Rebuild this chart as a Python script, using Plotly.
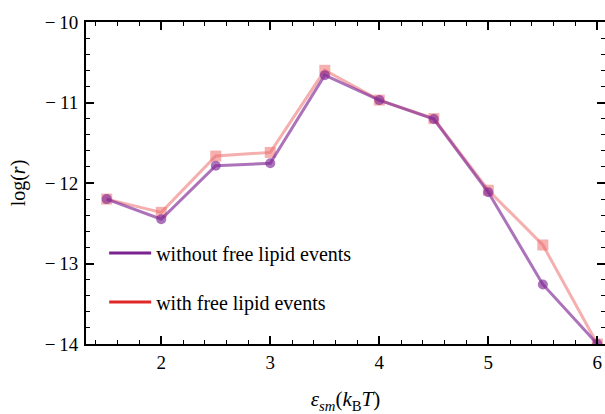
import plotly.graph_objects as go

eps = [1.5, 2.0, 2.5, 3.0, 3.5, 4.0, 4.5, 5.0, 5.5, 6.0]
without_free = [-12.20, -12.45, -11.785, -11.755, -10.66, -10.97, -11.205, -12.115, -13.26, -14.0]
with_free = [-12.20, -12.365, -11.665, -11.62, -10.60, -10.97, -11.20, -12.09, -12.77, -14.0]
legend_names = ["without free lipid events", "with free lipid events"]
x_ticks = [2, 3, 4, 5, 6]
y_ticks = [-10, -11, -12, -13, -14]

FONT = "Liberation Serif"

fig = go.Figure()
fig.add_trace(go.Scatter(
    x=eps, y=with_free, mode="lines+markers", showlegend=False,
    line=dict(color="rgba(236,110,110,0.55)", width=3),
    marker=dict(symbol="square", size=11, color="rgba(236,110,110,0.55)"),
))
fig.add_trace(go.Scatter(
    x=eps, y=without_free, mode="lines+markers", showlegend=False,
    line=dict(color="rgba(128,40,150,0.65)", width=3),
    marker=dict(symbol="circle", size=10, color="rgba(128,40,150,0.65)"),
))
fig.add_trace(go.Scatter(
    x=[None], y=[None], mode="lines", name=legend_names[0], legendgroup="a",
    line=dict(color="#7b2190", width=3),
))
fig.add_trace(go.Scatter(
    x=[None], y=[None], mode="lines", name=legend_names[1], legendgroup="b",
    line=dict(color="#e02828", width=3),
))
# invisible trace to carry the right-hand tick axis
fig.add_trace(go.Scatter(x=[None], y=[None], yaxis="y2", showlegend=False, hoverinfo="skip"))

tick_common = dict(ticks="inside", ticklen=8, tickwidth=1.5, tickcolor="black",
                   showgrid=False, zeroline=False)
minor = dict(dtick=0.2, tick0=0, ticks="inside", ticklen=4, tickwidth=1, tickcolor="black")

fig.update_layout(
    width=605, height=414,
    margin=dict(l=86, r=0, t=22, b=70),
    plot_bgcolor="white", paper_bgcolor="white",
    font=dict(family=FONT, color="black"),
    xaxis=dict(
        range=[1.31, 6.07], tickvals=x_ticks, ticktext=[str(v) for v in x_ticks],
        showline=True, linecolor="black", linewidth=2, mirror="ticks",
        minor=minor,
        tickfont=dict(family=FONT, size=19, color="black"),
        title=dict(text="<i>ε</i><sub><i>sm</i></sub>(<i>k</i><sub>B</sub><i>T</i>)",
                   font=dict(family=FONT, size=21), standoff=20),
        **tick_common,
    ),
    yaxis=dict(
        range=[-14, -10], tickvals=y_ticks,
        ticktext=["\u2212\u2009" + str(-v) for v in y_ticks],
        showline=True, linecolor="black", linewidth=2, mirror=False,
        minor=minor, ticklabelstandoff=2,
        tickfont=dict(family=FONT, size=19, color="black"),
        title=dict(text="log(<i>r</i>)", font=dict(family=FONT, size=20), standoff=14),
        **tick_common,
    ),
    yaxis2=dict(
        range=[-14, -10], tickvals=y_ticks, overlaying="y", side="right",
        showline=False, showticklabels=False, minor=minor,
        **tick_common,
    ),
    legend=dict(
        x=0.035, y=0.343, xanchor="left", yanchor="top",
        bgcolor="rgba(0,0,0,0)", traceorder="grouped", tracegroupgap=20,
        font=dict(family=FONT, size=20, color="black"),
        itemwidth=42,
    ),
)

fig.write_html("out.html")
